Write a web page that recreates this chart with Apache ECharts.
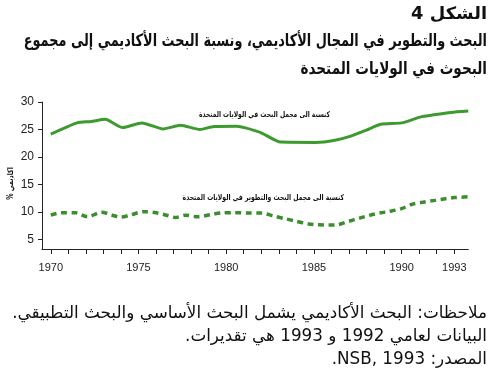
<!DOCTYPE html>
<html>
<head>
<meta charset="utf-8">
<script src="https://cdn.jsdelivr.net/npm/echarts@6/dist/echarts.min.js"></script>
<style>
html,body{margin:0;padding:0;background:#fff;}
#c{width:490px;height:379px;}
</style>
</head>
<body>
<div id="c" dir="rtl"></div>
<script>
// Academic research as % of total US research (solid)
const academicOfResearch = [
  [1970,24.15],[1971.5,26.2],[1972.3,26.45],[1973.1,26.85],[1974.1,25.35],[1975.2,26.2],
  [1976.4,25.1],[1977.4,25.75],[1978.5,25.0],[1979.3,25.55],[1980.6,25.6],[1981.1,25.3],
  [1982,24.4],[1983.1,22.7],[1985.1,22.65],[1986.2,23.05],[1987.1,23.8],[1988,24.9],
  [1988.8,25.95],[1990,26.2],[1991.1,27.3],[1991.7,27.6],[1992.8,28.1],[1993.8,28.35]
];
// Academic R&D as % of total US R&D (dashed)
const academicOfRnD = [
  [1970,9.4],[1970.6,9.85],[1971.4,9.85],[1972.1,9.1],[1972.9,9.95],[1973.5,9.4],
  [1974.0,9.05],[1974.6,9.5],[1975.3,10.05],[1976.0,9.85],[1976.6,9.4],[1977.1,9.0],
  [1977.7,9.4],[1978.4,9.1],[1979.1,9.5],[1979.7,9.8],[1980.5,9.85],[1981.3,9.8],
  [1982,9.78],[1982.7,9.25],[1983.3,8.8],[1984,8.3],[1984.7,7.8],[1985.3,7.65],
  [1985.9,7.6],[1986.4,7.7],[1987,8.3],[1987.6,8.87],[1988.2,9.4],[1988.8,9.83],
  [1989.3,10.1],[1990,10.6],[1990.6,11.4],[1991.3,11.8],[1991.9,12.1],[1992.5,12.4],
  [1993,12.6],[1993.8,12.75]
];
const tickYears = [1970,1971,1972,1973,1974,1975,1976,1977,1978,1979,1980,1981,1982,1983,1984,1985,1986,1987,1988,1989,1990,1991,1992,1993];
const labelYears = [1970,1975,1980,1985,1990,1993];
const yTicks = [5,10,15,20,25,30];

const titleLines = [
  'الشكل 4',
  'البحث والتطوير في المجال الأكاديمي، ونسبة البحث الأكاديمي إلى مجموع',
  'البحوث في الولايات المتحدة'
];
const noteLines = [
  'ملاحظات: البحث الأكاديمي يشمل البحث الأساسي والبحث التطبيقي.',
  'البيانات لعامي 1992 و 1993 هي تقديرات.',
  'المصدر: NSB, 1993.'
];
const seriesNames = [
  'كنسبة الى مجمل البحث في الولايات المتحدة',
  'كنسبة الى مجمل البحث والتطوير في الولايات المتحدة'
];
const yName = 'اكاديمي %';

const chart = echarts.init(document.getElementById('c'), null, {renderer:'canvas'});
const arFont = '"DejaVu Sans", "Noto Sans", sans-serif';
const graphics = [];
const titleY = [15, 42, 70];
const titleScale = [1.05, 0.757, 0.8];
titleLines.forEach((t,i)=>graphics.push({type:'text', x:487, y:titleY[i], scaleX:titleScale[i],
  style:{text:t, fill:'#111', font:'bold 17px '+arFont, textAlign:'right', textVerticalAlign:'middle'}}));
const noteY = [314, 337, 360];
noteLines.forEach((t,i)=>graphics.push({type:'text', x:487, y:noteY[i], scaleX:1.0,
  style:{text:t, fill:'#111', font:'16.8px '+arFont, textAlign:'right', textVerticalAlign:'middle'}}));
graphics.push({type:'text', x:330, y:115, scaleX:0.75, style:{text:seriesNames[0], fill:'#111', font:'bold 8px '+arFont, textAlign:'right', textVerticalAlign:'middle'}});
graphics.push({type:'text', x:344, y:198, scaleX:0.76, style:{text:seriesNames[1], fill:'#111', font:'bold 8px '+arFont, textAlign:'right', textVerticalAlign:'middle'}});
graphics.push({type:'text', x:10.5, y:183.5, rotation:Math.PI/2, scaleX:0.78, style:{text:yName, fill:'#111', font:'bold 8px '+arFont, textAlign:'center', textVerticalAlign:'middle'}});

chart.setOption({
  animation:false,
  grid:{left:42, right:21.7, top:102, bottom:130},
  xAxis:{type:'value', min:1969.5, max:1993.8,
    axisLine:{lineStyle:{color:'#222', width:1}},
    axisTick:{customValues:tickYears, length:5, lineStyle:{color:'#222'}},
    axisLabel:{customValues:labelYears, formatter:v=>String(v), fontSize:11, color:'#222', margin:13, fontFamily:'Liberation Sans, Arial, sans-serif'},
    splitLine:{show:false}},
  yAxis:{type:'value', min:3.25, max:30,
    axisLine:{show:true, lineStyle:{color:'#222', width:1}},
    axisTick:{show:true, customValues:yTicks, length:4, lineStyle:{color:'#222'}},
    axisLabel:{customValues:yTicks, fontSize:12, color:'#222', margin:8, fontFamily:'Liberation Sans, Arial, sans-serif'},
    splitLine:{show:false}},
  series:[
    {type:'line', data:academicOfResearch, smooth:0.2, symbol:'none',
     lineStyle:{color:'#3d9a2f', width:3}},
    {type:'line', data:academicOfRnD, smooth:0.3, symbol:'none',
     lineStyle:{color:'#3a8f2c', width:3.5, type:[6,4.5]}}
  ],
  graphic:graphics
});
</script>
</body>
</html>
